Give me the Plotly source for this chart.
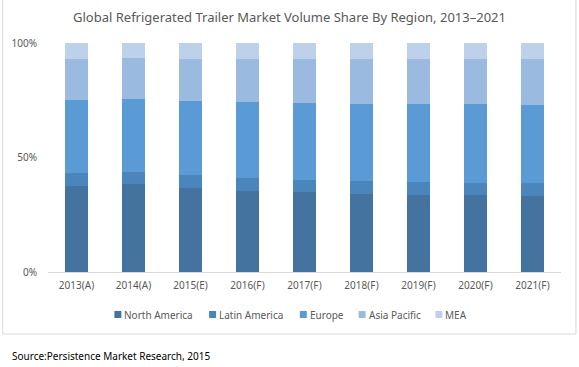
import plotly.graph_objects as go

categories = ["2013(A)", "2014(A)", "2015(E)", "2016(F)", "2017(F)", "2018(F)", "2019(F)", "2020(F)", "2021(F)"]
north_america = [37.6, 38.4, 36.7, 35.4, 34.9, 34.1, 33.6, 33.6, 33.2]
latin_america = [5.7, 5.2, 5.7, 5.7, 5.2, 5.7, 5.7, 5.2, 5.7]
europe = [31.9, 31.9, 32.3, 33.2, 33.6, 33.6, 34.1, 34.5, 34.1]
asia_pacific = [17.9, 17.9, 18.3, 18.8, 19.2, 19.7, 19.7, 19.7, 20.1]
mea = [7.0, 6.6, 7.0, 7.0, 7.0, 7.0, 7.0, 7.0, 7.0]
series_names = ["North America", "Latin America", "Europe", "Asia Pacific", "MEA"]
tick_vals = [0, 50, 100]
tick_text = ["0%", "50%", "100%"]

series_values = [north_america, latin_america, europe, asia_pacific, mea]
colors = ["#44739F", "#4A86BC", "#5B9BD5", "#9BBAE0", "#BDD1EA"]

FONT = "Noto Sans"
GREY = "#595959"

fig = go.Figure()
for name, vals, color in zip(series_names, series_values, colors):
    fig.add_trace(go.Bar(x=categories, y=vals, name=name, marker_color=color,
                         marker_line_width=0, hoverinfo="x+y+name"))

W, H = 579, 367
L, R, T, B = 46.4, 18, 43, 95
pw, ph = W - L - R, H - T - B

def px_x(x):
    return (x - L) / pw

def px_y(y):
    return (H - B - y) / ph

shapes = [dict(type="rect", xref="paper", yref="paper",
               x0=px_x(1), x1=px_x(576), y0=px_y(334), y1=px_y(-2),
               line=dict(color="#D9D9D9", width=1), fillcolor="rgba(0,0,0,0)", layer="below")]
annotations = [dict(text="Source:Persistence Market Research, 2015", xref="paper", yref="paper",
                    x=px_x(8), y=px_y(356), xanchor="left", yanchor="middle", showarrow=False,
                    font=dict(family=FONT, size=10, color="#000000"))]

# custom legend (Excel-like small squares)
legend_x = [113, 208, 299, 358, 435]
for name, color, lx in zip(series_names, colors, legend_x):
    shapes.append(dict(type="rect", xref="paper", yref="paper",
                       x0=px_x(lx), x1=px_x(lx + 7), y0=px_y(318), y1=px_y(311),
                       line=dict(width=0), fillcolor=color))
    annotations.append(dict(text=name, xref="paper", yref="paper",
                            x=px_x(lx + 8), y=px_y(314.5), xanchor="left", yanchor="middle",
                            showarrow=False, font=dict(family=FONT, size=10, color=GREY)))

fig.update_layout(
    width=W, height=H,
    margin=dict(l=L, r=R, t=T, b=B, pad=0),
    barmode="stack",
    bargap=0.6,
    plot_bgcolor="white",
    paper_bgcolor="white",
    font=dict(family=FONT, size=10, color=GREY),
    title=dict(text="Global Refrigerated Trailer Market Volume Share By Region, 2013\u20132021",
               x=0.5, xref="container", xanchor="center", y=1 - 17 / H, yanchor="middle",
               font=dict(family=FONT, size=13, color=GREY)),
    showlegend=False,
    xaxis=dict(showgrid=False, showline=True, linecolor="#D9D9D9", linewidth=1,
               ticks="", ticklabelstandoff=4, tickfont=dict(family=FONT, size=10, color=GREY)),
    yaxis=dict(range=[0, 100], tickvals=tick_vals, ticktext=tick_text,
               showgrid=False, zeroline=False, showline=False, ticks="",
               ticklabelstandoff=10,
               tickfont=dict(family=FONT, size=10, color=GREY)),
    shapes=shapes,
    annotations=annotations,
)

fig.write_html("out.html", config={"displayModeBar": False},
               post_script="document.body.style.margin='0';document.body.style.overflow='hidden';")
